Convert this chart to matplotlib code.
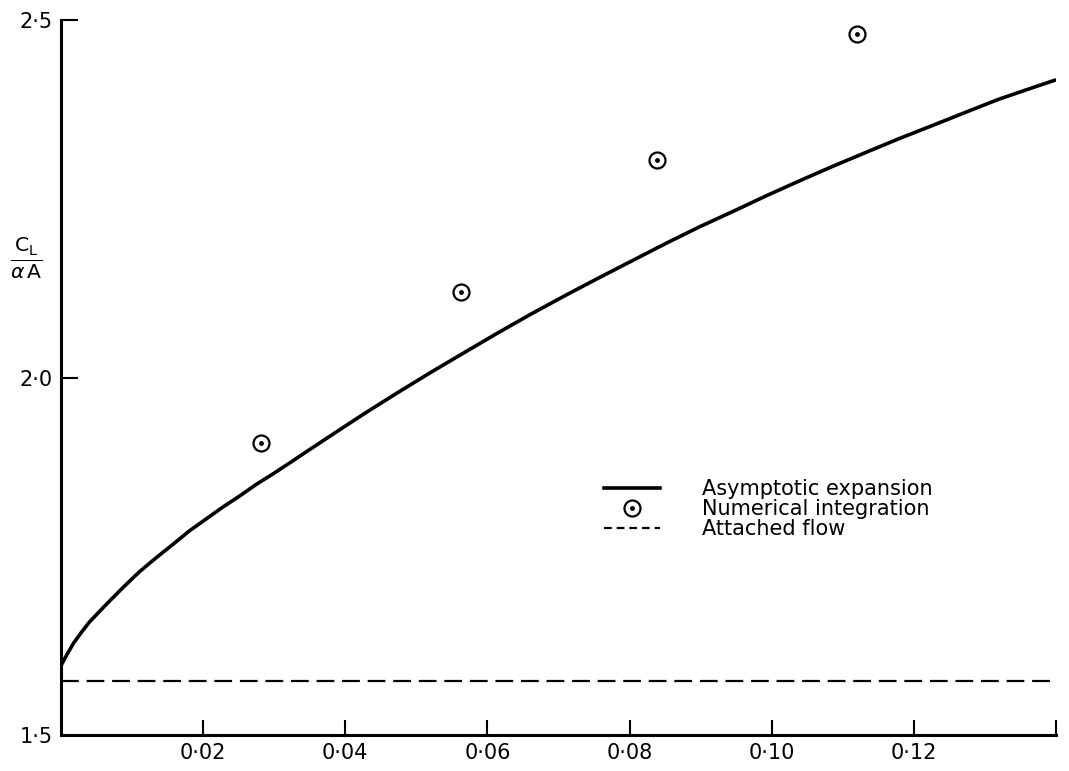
import numpy as np
import matplotlib
matplotlib.use("Agg")
import matplotlib.pyplot as plt
from matplotlib.lines import Line2D

# asymptotic expansion curve
asym_x = [0.0, 0.0008, 0.0018, 0.0029, 0.0040, 0.0064, 0.0088, 0.0110, 0.0134,
          0.0158, 0.0180, 0.0204, 0.0228, 0.0251, 0.0274, 0.0298, 0.0321, 0.0345,
          0.0380, 0.0426, 0.0474, 0.0520, 0.0566, 0.0614, 0.0660, 0.0712, 0.0758,
          0.0805, 0.0852, 0.0899, 0.0945, 0.0992, 0.1039, 0.1085, 0.1133, 0.1179,
          0.1225, 0.1273, 0.1319, 0.1366, 0.1399]
asym_y = [1.597, 1.612, 1.629, 1.644, 1.658, 1.683, 1.707, 1.728, 1.748,
          1.767, 1.785, 1.802, 1.819, 1.834, 1.850, 1.865, 1.880, 1.896,
          1.919, 1.949, 1.979, 2.007, 2.034, 2.062, 2.088, 2.116, 2.140,
          2.164, 2.188, 2.211, 2.232, 2.254, 2.275, 2.295, 2.315, 2.334,
          2.352, 2.371, 2.389, 2.405, 2.416]

# numerical integration points
num_x = [0.0281, 0.0563, 0.0839, 0.1120]
num_y = [1.908, 2.119, 2.304, 2.480]

# attached flow
att_x = [0.0, 0.14]
att_y = [1.576, 1.576]

xticks = [0.02, 0.04, 0.06, 0.08, 0.10, 0.12]
xlabels = ['0·02', '0·04', '0·06', '0·08', '0·10', '0·12']
yticks = [1.5, 2.0, 2.5]
ylabels = ['1·5', '2·0', '2·5']

plt.rcParams['font.family'] = ['DejaVu Sans']
plt.rcParams['mathtext.fontset'] = 'dejavusans'

fig = plt.figure(figsize=(10.69, 7.71), dpi=100)
ax = fig.add_axes([61/1069, 1-735/771, 995/1069, 715/771])

ax.plot(asym_x, asym_y, color='black', lw=2.6, solid_capstyle='round',
        solid_joinstyle='round')
ax.plot(att_x, att_y, color='black', lw=1.6, dashes=(8, 3.5))
ax.plot(num_x, num_y, ls='none', marker='o', ms=11.5, mfc='none', mec='black', mew=1.6)
ax.plot(num_x, num_y, ls='none', marker='o', ms=2.5, color='black')

ax.set_xlim(0, 0.14)
ax.set_ylim(1.5, 2.5)
for s in ['top', 'right']:
    ax.spines[s].set_visible(False)
for s in ['left', 'bottom']:
    ax.spines[s].set_linewidth(2.2)

ax.set_xticks(xticks + [0.14])
ax.set_xticklabels(xlabels + [''])
ax.set_yticks(yticks)
ax.set_yticklabels(ylabels)
ax.tick_params(axis='x', direction='in', length=11, width=1.5, labelsize=15, pad=6)
ax.tick_params(axis='y', direction='in', length=12, width=1.5, labelsize=15, pad=6)
ax.yaxis.get_major_ticks()[0].tick1line.set_visible(False)

fig.text(26/1069, 1-258/771, r'$\frac{\mathrm{C_L}}{\alpha\,\mathrm{A}}$', fontsize=21,
         ha='center', va='center')

h_line = Line2D([], [], color='black', lw=2.6)
h_circ = (Line2D([], [], ls='none', marker='o', ms=11.5, mfc='none', mec='black', mew=1.6),
          Line2D([], [], ls='none', marker='o', ms=2.5, color='black'))
h_dash = Line2D([], [], color='black', lw=1.6, dashes=(3.5, 2.2))
ax.legend([h_line, h_circ, h_dash],
          ['Asymptotic expansion', 'Numerical integration', 'Attached flow'],
          loc='upper left', bbox_to_anchor=(0.535, 0.372), frameon=False,
          fontsize=15, handlelength=2.7, handletextpad=2.0, labelspacing=0.0,
          borderpad=0)

fig.savefig('out.png', dpi=100)
